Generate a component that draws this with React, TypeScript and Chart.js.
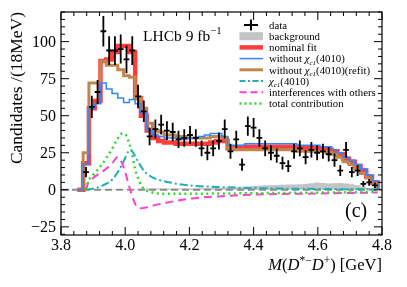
import React, { useEffect, useRef } from "react";
import { Chart, registerables } from "chart.js";

Chart.register(...registerables);

// ---------------- data ----------------
const BIN_START = 3.869; // lower edge of first data bin [GeV]
const BIN_WIDTH = 0.018; // 18 MeV bins

const dataCounts = [
  12, 56, 66, 107, 94, 94, 95, 88, 94, 63, 53, 36, 41, 44, 40, 39, 34, 35, 37, 35,
  28, 25, 28, 33, 41, 26, 34, 17, 43, 42, 35, 28, 25, 23, 18, 16, 26, 28, 22, 27,
  25, 26, 24, 20, 13, 27, 12, 13, 4, 5, 3,
];

const nominalFit = [
  18, 55, 60, 87, 88, 93, 97, 97, 93, 62, 50, 40, 35, 33, 32, 32, 31, 31, 31, 31,
  31, 31, 32, 33, 33, 28, 28, 28, 29, 29, 29, 29, 29, 29, 29, 29, 29, 28, 28, 28,
  28, 28, 27, 26, 24, 21, 19, 16, 13, 9, 5,
];

const withoutChi = [
  17, 55, 58, 72, 68, 65, 62, 59, 61, 58, 52, 40, 37, 36, 35, 35, 35, 34, 35, 35,
  36, 37, 38, 38, 36, 30, 30, 30, 31, 31, 31, 31, 31, 31, 31, 31, 31, 30, 30, 30,
  30, 29, 29, 27, 25, 22, 20, 17, 14, 10, 6,
];

const withoutChiRefit = [
  25, 72, 72, 87, 84, 84, 81, 77, 76, 62, 55, 45, 40, 39, 37, 37, 36, 36, 35, 35,
  35, 35, 36, 36, 35, 28, 27, 27, 27, 27, 27, 27, 27, 27, 27, 27, 27, 26, 26, 26,
  26, 26, 25, 24, 22, 19, 17, 14, 11, 8, 4,
];

const backgroundYield = [
  0.3, 0.3, 0.3, 0.3, 0.3, 0.3, 0.3, 0.3, 0.3, 0.3, 0.8, 0.8, 0.8, 0.8, 0.8, 0.8, 0.8, 0.8, 0.8, 0.8,
  1.0, 1.2, 1.2, 1.2, 1.5, 1.5, 1.8, 2.0, 2.2, 2.5, 2.8, 3.0, 3.0, 3.2, 3.4, 3.5, 3.6, 3.8, 4.0, 4.5,
  5.0, 4.6, 4.2, 4.4, 4.6, 4.3, 3.8, 3.0, 2.0, 1.2, 0.6,
];

const chiMass = [3.878, 3.9, 3.92, 3.94, 3.96, 3.98, 3.99, 4.0, 4.01, 4.017, 4.025, 4.035, 4.05, 4.06, 4.08, 4.1, 4.15, 4.2, 4.3, 4.4, 4.5, 4.6, 4.7, 4.786];
const chiValues = [0, 0.8, 2, 4, 7, 13, 17, 21.5, 26, 27, 25, 21, 15.5, 12.5, 9, 7, 4.5, 3, 1.8, 1.2, 0.8, 0.6, 0.4, 0.3];

const interfMass = [3.878, 3.885, 3.9, 3.92, 3.94, 3.96, 3.976, 3.99, 4.0, 4.01, 4.02, 4.03, 4.04, 4.05, 4.06, 4.08, 4.1, 4.15, 4.2, 4.3, 4.44, 4.6, 4.786];
const interfValues = [0, 5, 8, 11, 14, 18, 22, 18, 12, 4, -3, -9, -12, -12.5, -12.2, -11, -10, -7.8, -6, -4.3, -3, -2.5, -1.8];

const totalMass = [3.878, 3.885, 3.9, 3.92, 3.94, 3.96, 3.975, 3.99, 4.0, 4.01, 4.02, 4.03, 4.04, 4.05, 4.06, 4.08, 4.1, 4.2, 4.3, 4.5, 4.786];
const totalValues = [0, 5.5, 10, 15, 21, 28, 34, 38, 37.5, 33, 26, 15, 8, 3, 0.3, -1.5, -2.5, -2.7, -2.5, -2.1, -1.5];

const xTicks = [3.8, 4.0, 4.2, 4.4, 4.6, 4.8];
const yTicks = [-25, 0, 25, 50, 75, 100];

const legendLabels = [
  "data",
  "background",
  "nominal fit",
  "without χc1(4010)",
  "without χc1(4010)(refit)",
  "χc1(4010)",
  "interferences with others",
  "total contribution",
];

// ---------------- helpers ----------------
const SERIF = '"Liberation Serif", "DejaVu Serif", serif';

function stepPoints(vals: number[]) {
  const pts: { x: number; y: number }[] = [{ x: BIN_START - BIN_WIDTH, y: 0 }];
  vals.forEach((v, i) => pts.push({ x: BIN_START + i * BIN_WIDTH, y: v }));
  const end = BIN_START + vals.length * BIN_WIDTH;
  pts.push({ x: end, y: vals[vals.length - 1] });
  pts.push({ x: end, y: 0 });
  return pts;
}

function curvePoints(xs: number[], ys: number[]) {
  return xs.map((x, i) => ({ x, y: ys[i] }));
}

type Part = { t: string; size?: number; dy?: number; italic?: boolean };

function richWidth(ctx: CanvasRenderingContext2D, parts: Part[], base: number) {
  let w = 0;
  for (const p of parts) {
    ctx.font = `${p.italic ? "italic " : ""}${(p.size ?? 1) * base}px ${SERIF}`;
    w += ctx.measureText(p.t).width;
  }
  return w;
}

function drawRich(ctx: CanvasRenderingContext2D, x: number, y: number, parts: Part[], base: number) {
  let cx = x;
  ctx.textAlign = "left";
  ctx.textBaseline = "alphabetic";
  for (const p of parts) {
    ctx.font = `${p.italic ? "italic " : ""}${(p.size ?? 1) * base}px ${SERIF}`;
    ctx.fillText(p.t, cx, y + (p.dy ?? 0));
    cx += ctx.measureText(p.t).width;
  }
}

const COLORS = {
  red: "rgba(255,45,45,0.92)",
  blue: "#2f86ff",
  brown: "#c0874c",
  teal: "#1fb0b4",
  magenta: "#ff3fcf",
  green: "#2ed62e",
  bg: "#c4c4c4",
  zero: "#8c8c8c",
};

const framePlugin = {
  id: "framePlugin",
  afterDatasetsDraw(chart: any) {
    const ctx: CanvasRenderingContext2D = chart.ctx;
    const xs = chart.scales.x;
    const ys = chart.scales.y;
    const meta = chart.getDatasetMeta(0);
    ctx.save();
    ctx.strokeStyle = "#000";
    ctx.lineWidth = 1.8;
    meta.data.forEach((el: any, i: number) => {
      const n = dataCounts[i];
      const c = BIN_START + (i + 0.5) * BIN_WIDTH;
      const px = el.x;
      const py = el.y;
      const yTop = ys.getPixelForValue(n + Math.sqrt(n));
      const yBot = ys.getPixelForValue(n - Math.sqrt(n));
      const xl = xs.getPixelForValue(c - BIN_WIDTH / 2);
      const xr = xs.getPixelForValue(c + BIN_WIDTH / 2);
      ctx.beginPath();
      ctx.moveTo(px, yTop);
      ctx.lineTo(px, yBot);
      ctx.moveTo(xl, py);
      ctx.lineTo(xr, py);
      ctx.stroke();
    });
    ctx.restore();
  },
  afterDraw(chart: any) {
    const ctx: CanvasRenderingContext2D = chart.ctx;
    const a = chart.chartArea;
    const xs = chart.scales.x;
    const ys = chart.scales.y;
    ctx.save();
    // frame
    ctx.strokeStyle = "#000";
    ctx.lineWidth = 1.2;
    ctx.strokeRect(a.left, a.top, a.right - a.left, a.bottom - a.top);
    // x ticks
    ctx.lineWidth = 1;
    ctx.beginPath();
    for (let k = 0; k <= 25; k++) {
      const v = 3.8 + k * 0.04;
      const px = xs.getPixelForValue(v);
      const len = k % 5 === 0 ? 8 : 4;
      ctx.moveTo(px, a.bottom);
      ctx.lineTo(px, a.bottom - len);
      ctx.moveTo(px, a.top);
      ctx.lineTo(px, a.top + len);
    }
    // y ticks
    for (let v = -30; v <= 120; v += 5) {
      const py = ys.getPixelForValue(v);
      const len = v % 25 === 0 ? 8 : 4;
      ctx.moveTo(a.left, py);
      ctx.lineTo(a.left + len, py);
      ctx.moveTo(a.right, py);
      ctx.lineTo(a.right - len, py);
    }
    ctx.stroke();

    // tick labels
    ctx.fillStyle = "#000";
    ctx.font = `16px ${SERIF}`;
    ctx.textAlign = "center";
    ctx.textBaseline = "middle";
    xTicks.forEach((v) => ctx.fillText(v.toFixed(1), xs.getPixelForValue(v), a.bottom + 11));
    ctx.textAlign = "right";
    yTicks.forEach((v) =>
      ctx.fillText(v < 0 ? "−" + Math.abs(v) : String(v), a.left - 5, ys.getPixelForValue(v) + 1)
    );

    // y title
    ctx.save();
    ctx.translate(17, a.top);
    ctx.rotate(-Math.PI / 2);
    ctx.font = `17.5px ${SERIF}`;
    ctx.textAlign = "right";
    ctx.textBaseline = "middle";
    ctx.fillText("Candidates /(18MeV)", 0, 0);
    ctx.restore();

    // x title
    const xt: Part[] = [
      { t: "M", italic: true },
      { t: "(" },
      { t: "D", italic: true },
      { t: "*−", size: 0.7, dy: -6 },
      { t: "D", italic: true },
      { t: "+", size: 0.7, dy: -6 },
      { t: ") [GeV]" },
    ];
    const base = 16.5;
    const w = richWidth(ctx, xt, base);
    drawRich(ctx, a.right - w, 270, xt, base);

    // LHCb label
    drawRich(ctx, 143, 41, [{ t: "LHCb 9 fb" }, { t: "−1", size: 0.7, dy: -7 }], 15.5);

    // (c)
    ctx.font = `20px ${SERIF}`;
    ctx.textAlign = "left";
    ctx.textBaseline = "alphabetic";
    ctx.fillText("(c)", 345, 217);

    // legend
    const sx0 = 239.5;
    const sx1 = 263;
    const tx = 269;
    const lf = 10.8;
    legendLabels.forEach((label, i) => {
      const cy = 25 + i * 11.2;
      ctx.save();
      ctx.setLineDash([]);
      if (i === 0) {
        ctx.strokeStyle = "#000";
        ctx.lineWidth = 2;
        ctx.beginPath();
        ctx.moveTo(251, cy - 5.5);
        ctx.lineTo(251, cy + 5.5);
        ctx.moveTo(244, cy);
        ctx.lineTo(258, cy);
        ctx.stroke();
      } else if (i === 1) {
        ctx.fillStyle = COLORS.bg;
        ctx.fillRect(sx0, cy - 4, sx1 - sx0, 8);
      } else {
        const styles: any[] = [
          null,
          null,
          { c: COLORS.red, w: 4.5, d: [] },
          { c: COLORS.blue, w: 1.5, d: [] },
          { c: COLORS.brown, w: 3, d: [] },
          { c: COLORS.teal, w: 2, d: [6, 2.5, 2, 2.5] },
          { c: COLORS.magenta, w: 2, d: [7, 4] },
          { c: COLORS.green, w: 2.5, d: [2, 3] },
        ];
        const s = styles[i];
        ctx.strokeStyle = s.c;
        ctx.lineWidth = s.w;
        ctx.setLineDash(s.d);
        ctx.beginPath();
        ctx.moveTo(sx0, cy);
        ctx.lineTo(sx1, cy);
        ctx.stroke();
      }
      ctx.restore();
      ctx.fillStyle = "#000";
      const parts: Part[] = [];
      if (label.includes("χc1")) {
        const [pre, post] = label.split("χc1");
        if (pre) parts.push({ t: pre });
        parts.push({ t: "χ", italic: true });
        parts.push({ t: "c1", size: 0.65, dy: 2.5, italic: true });
        parts.push({ t: post });
      } else {
        parts.push({ t: label });
      }
      drawRich(ctx, tx, cy + 3.8, parts, lf);
    });
    ctx.restore();
  },
};

export default function App() {
  const ref = useRef<HTMLCanvasElement | null>(null);
  useEffect(() => {
    if (!ref.current) return;
    const dataPoints = dataCounts.map((n, i) => ({ x: BIN_START + (i + 0.5) * BIN_WIDTH, y: n }));
    const chart = new Chart(ref.current, {
      type: "line",
      data: {
        datasets: [
          {
            label: "data",
            data: dataPoints,
            showLine: false,
            pointRadius: 0,
            order: 0,
          } as any,
          {
            label: "total contribution",
            data: curvePoints(totalMass, totalValues),
            borderColor: COLORS.green,
            borderWidth: 2.5,
            borderDash: [2, 3.5],
            pointRadius: 0,
            cubicInterpolationMode: "monotone",
            fill: false,
            order: 1,
          },
          {
            label: "interferences with others",
            data: curvePoints(interfMass, interfValues),
            borderColor: COLORS.magenta,
            borderWidth: 2,
            borderDash: [8, 5],
            pointRadius: 0,
            cubicInterpolationMode: "monotone",
            fill: false,
            order: 2,
          },
          {
            label: "χc1(4010)",
            data: curvePoints(chiMass, chiValues),
            borderColor: COLORS.teal,
            borderWidth: 2,
            borderDash: [8, 3, 2, 3],
            pointRadius: 0,
            cubicInterpolationMode: "monotone",
            fill: false,
            order: 3,
          },
          {
            label: "without χc1(4010)",
            data: stepPoints(withoutChi),
            borderColor: COLORS.blue,
            borderWidth: 1.5,
            stepped: "before",
            pointRadius: 0,
            fill: false,
            order: 4,
          },
          {
            label: "without χc1(4010)(refit)",
            data: stepPoints(withoutChiRefit),
            borderColor: COLORS.brown,
            borderWidth: 3,
            stepped: "before",
            pointRadius: 0,
            fill: false,
            order: 5,
          },
          {
            label: "nominal fit",
            data: stepPoints(nominalFit),
            borderColor: COLORS.red,
            borderWidth: 4.5,
            stepped: "before",
            pointRadius: 0,
            fill: false,
            order: 6,
          },
          {
            label: "zero",
            data: [
              { x: 3.8, y: 0 },
              { x: 4.8, y: 0 },
            ],
            borderColor: COLORS.zero,
            borderWidth: 2,
            borderDash: [7, 4],
            pointRadius: 0,
            fill: false,
            order: 7,
          },
          {
            label: "background",
            data: stepPoints(backgroundYield),
            borderColor: COLORS.bg,
            backgroundColor: COLORS.bg,
            borderWidth: 0,
            stepped: "before",
            pointRadius: 0,
            fill: "origin",
            order: 8,
          },
        ],
      },
      options: {
        responsive: false,
        devicePixelRatio: 1,
        animation: false,
        events: [],
        layout: { padding: { left: 61, right: 25, top: 12, bottom: 52 } },
        plugins: { legend: { display: false }, tooltip: { enabled: false } },
        scales: {
          x: { type: "linear", min: 3.8, max: 4.8, display: false },
          y: { type: "linear", min: -30.5, max: 120, display: false },
        },
      },
      plugins: [framePlugin],
    });
    return () => chart.destroy();
  }, []);

  return (
    <div style={{ position: "fixed", left: 0, top: 0, width: 407, height: 287, background: "#fff" }}>
      <canvas ref={ref} width={407} height={287} style={{ width: 407, height: 287 }} />
    </div>
  );
}
